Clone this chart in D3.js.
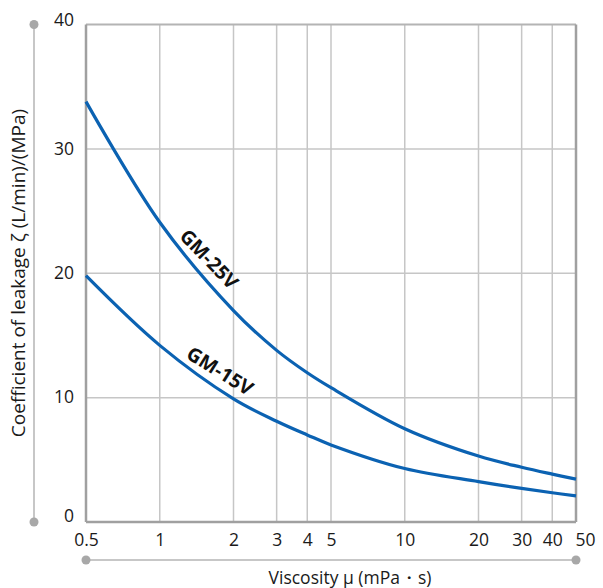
<!DOCTYPE html>
<html><head><meta charset="utf-8">
<script src="https://cdn.jsdelivr.net/npm/d3@7"></script>
<style>body{margin:0;background:#fff;} svg{display:block;font-family:"Open Sans",sans-serif;}</style>
</head><body><svg id="c" width="603" height="588"></svg>
<script>
const viscosity = [0.5, 1, 2, 3, 4, 5, 10, 20, 30, 40, 50];
const gm25v = [33.8, 24.1, 17.0, 13.8, 12.0, 10.8, 7.5, 5.3, 4.4, 3.85, 3.45];
const gm15v = [19.8, 14.2, 9.9, 8.1, 7.0, 6.2, 4.3, 3.25, 2.7, 2.35, 2.1];
const xTicks = [0.5, 1, 2, 3, 4, 5, 10, 20, 30, 40, 50];
const yTicks = [0, 10, 20, 30, 40];
const seriesNames = ["GM-25V", "GM-15V"];

const svg = d3.select("#c");
const L = 86, R = 576, T = 24.5, B = 522;
const x = d3.scaleLog().domain([0.5, 50]).range([L, R]);
const y = d3.scaleLinear().domain([0, 40]).range([B, T]);

// grid
svg.append("g").selectAll("line").data(xTicks.slice(1, -1)).join("line")
  .attr("x1", d => x(d)).attr("x2", d => x(d)).attr("y1", T).attr("y2", B)
  .attr("stroke", "#c6c6c6").attr("stroke-width", 1.5);
svg.append("g").selectAll("line").data(yTicks.slice(1, -1)).join("line")
  .attr("y1", d => y(d)).attr("y2", d => y(d)).attr("x1", L).attr("x2", R)
  .attr("stroke", "#c6c6c6").attr("stroke-width", 1.5);
// frame
svg.append("line").attr("x1", L).attr("x2", R).attr("y1", T).attr("y2", T).attr("stroke", "#b4b4b4").attr("stroke-width", 2);
svg.append("line").attr("x1", R).attr("x2", R).attr("y1", T).attr("y2", B).attr("stroke", "#a0a0a0").attr("stroke-width", 2.5);
svg.append("line").attr("x1", L).attr("x2", L).attr("y1", T).attr("y2", B).attr("stroke", "#a0a0a0").attr("stroke-width", 2.5);
svg.append("line").attr("x1", L).attr("x2", R).attr("y1", B).attr("y2", B).attr("stroke", "#a0a0a0").attr("stroke-width", 2.5);

// axes labels via d3 axes
const xAxis = d3.axisBottom(x).tickValues(xTicks).tickFormat(d => String(d)).tickSize(0).tickPadding(12);
const gx = svg.append("g").attr("transform", `translate(0,${B})`).call(xAxis);
gx.select(".domain").remove();
gx.selectAll("text").attr("font-size", 17.5).attr("fill", "#1a1a1a").attr("font-family", "Open Sans, sans-serif")
  .attr("dx", d => d === 50 ? 9 : 0);

const yAxis = d3.axisLeft(y).tickValues(yTicks).tickSize(0).tickPadding(12);
const gy = svg.append("g").attr("transform", `translate(${L},0)`).call(yAxis);
gy.select(".domain").remove();
gy.selectAll("text").attr("font-size", 17.5).attr("fill", "#1a1a1a").attr("font-family", "Open Sans, sans-serif")
  .attr("dy", d => (d === 0 ? -0.05 : d === 40 ? 0.08 : 0.3) + "em");

// decorative axis rails
svg.append("line").attr("x1", 34).attr("x2", 34).attr("y1", T).attr("y2", B).attr("stroke", "#b4b4b4").attr("stroke-width", 1.5);
svg.selectAll(".dy").data([T, B]).join("circle").attr("cx", 34).attr("cy", d => d).attr("r", 4.5).attr("fill", "#a8a8a8");
svg.append("line").attr("x1", L).attr("x2", R).attr("y1", 560).attr("y2", 560).attr("stroke", "#b4b4b4").attr("stroke-width", 1.5);
svg.selectAll(".dx").data([L, R]).join("circle").attr("cx", d => d).attr("cy", 560).attr("r", 4.5).attr("fill", "#a8a8a8");

// titles
svg.append("text").attr("x", 350).attr("y", 584).attr("text-anchor", "middle")
  .attr("font-size", 17.5).attr("fill", "#1a1a1a").text("Viscosity μ (mPa・s)");
svg.append("text").attr("transform", "translate(25,273) rotate(-90)").attr("text-anchor", "middle")
  .attr("font-size", 19).attr("fill", "#1a1a1a").text("Coefficient of leakage ζ (L/min)/(MPa)");

// curves
const line = d3.line().x((d, i) => x(viscosity[i])).y(d => y(d)).curve(d3.curveCatmullRom.alpha(0.5));
[gm25v, gm15v].forEach(s => {
  svg.append("path").attr("d", line(s)).attr("fill", "none").attr("stroke", "#0b62b2").attr("stroke-width", 3.2);
});

// labels
svg.append("text").attr("transform", "translate(209,259) rotate(46)").attr("text-anchor", "middle").attr("dy", "0.35em")
  .attr("font-size", 19.5).attr("font-weight", "bold").attr("fill", "#111").text(seriesNames[0]);
svg.append("text").attr("transform", "translate(220,371) rotate(32)").attr("text-anchor", "middle").attr("dy", "0.35em")
  .attr("font-size", 19.5).attr("font-weight", "bold").attr("fill", "#111").text(seriesNames[1]);
</script></body></html>
